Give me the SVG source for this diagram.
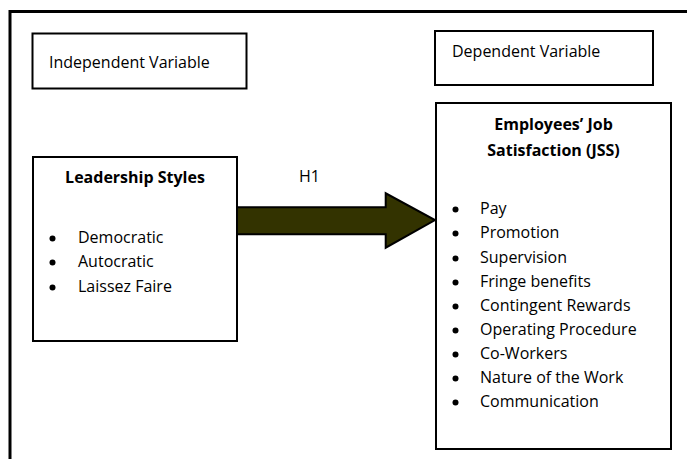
<svg xmlns="http://www.w3.org/2000/svg" width="687" height="459" viewBox="0 0 687 459">
<style>
.box{fill:#fff;stroke:#000;stroke-width:2}
.t{font-family:"Open Sans","Liberation Sans",sans-serif;font-size:16px;fill:#000}
.b{font-weight:bold;text-anchor:middle}
.dot{fill:#000}
</style>
<defs><circle id="bul" r="3" class="dot"/></defs>
<rect width="687" height="459" fill="#fff"/>
<path d="M10,459 V11.5 H690" fill="none" stroke="#000" stroke-width="3"/>
<g id="independent">
<rect class="box" x="32.5" y="33.5" width="214" height="55"/>
<text class="t" x="49" y="68">Independent Variable</text>
</g>
<g id="dependent">
<rect class="box" x="435" y="31" width="218" height="54"/>
<text class="t" x="452" y="57">Dependent Variable</text>
</g>
<g id="leadership">
<rect class="box" x="33" y="157" width="204" height="184"/>
<text class="t b" x="135" y="183">Leadership Styles</text>
<use href="#bul" x="52.5" y="238.5"/><text class="t" x="78" y="243">Democratic</text>
<use href="#bul" x="52.5" y="262.5"/><text class="t" x="78" y="267">Autocratic</text>
<use href="#bul" x="52.5" y="287.5"/><text class="t" x="78" y="292">Laissez Faire</text>
</g>
<g id="jss">
<rect class="box" x="436" y="103" width="235" height="346"/>
<text class="t b" x="553.5" y="130">Employees’ Job</text>
<text class="t b" x="553.5" y="156">Satisfaction (JSS)</text>
<g class="t">
<use href="#bul" x="455.5" y="209.5"/><text x="480" y="214">Pay</text>
<use href="#bul" x="455.5" y="233.5"/><text x="480" y="238">Promotion</text>
<use href="#bul" x="455.5" y="258.5"/><text x="480" y="263">Supervision</text>
<use href="#bul" x="455.5" y="282.5"/><text x="480" y="287">Fringe benefits</text>
<use href="#bul" x="455.5" y="306.5"/><text x="480" y="311">Contingent Rewards</text>
<use href="#bul" x="455.5" y="330.5"/><text x="480" y="335">Operating Procedure</text>
<use href="#bul" x="455.5" y="354.5"/><text x="480" y="359">Co-Workers</text>
<use href="#bul" x="455.5" y="378.5"/><text x="480" y="383">Nature of the Work</text>
<use href="#bul" x="455.5" y="402.5"/><text x="480" y="407">Communication</text>
</g>
</g>
<g id="connectors">
<polygon points="237,207.3 385.7,207.3 385.7,193.3 435,220 385.7,247.7 385.7,234.3 237,234.3" fill="#333300" stroke="#000" stroke-width="2" stroke-linejoin="miter"/>
<text class="t" x="299" y="182">H1</text>
</g>
</svg>
